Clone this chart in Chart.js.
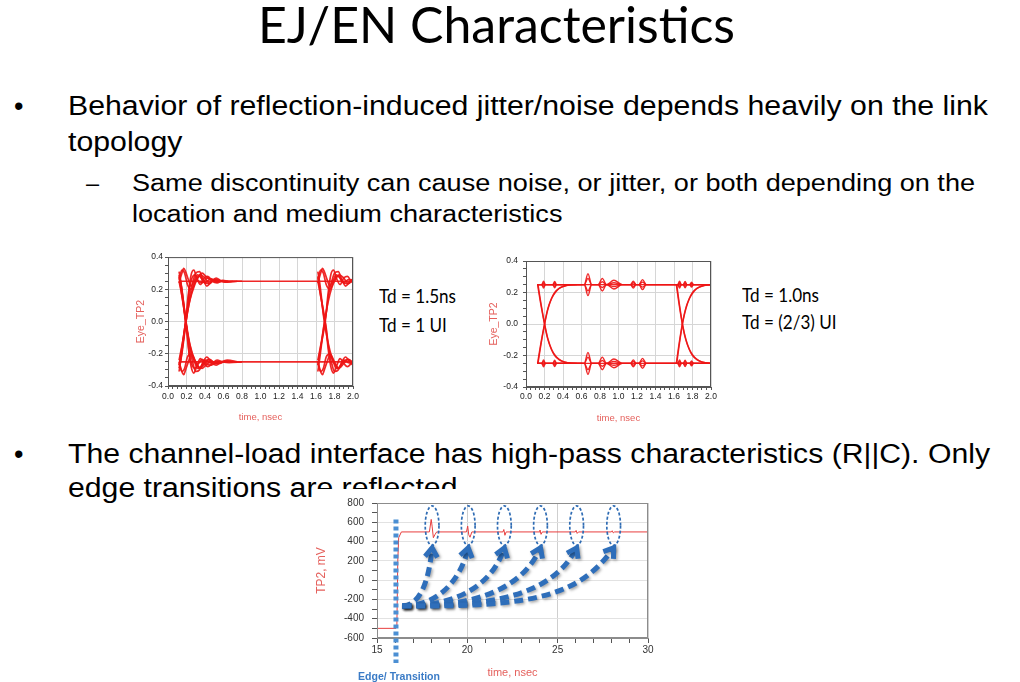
<!DOCTYPE html>
<html>
<head>
<meta charset="utf-8">
<title>EJ/EN Characteristics</title>
<script src="https://cdn.jsdelivr.net/npm/chart.js@4.4.1/dist/chart.umd.min.js"></script>
<style>
  body { margin: 0; background: #fff; }
  #slide { position: relative; width: 1020px; height: 682px; overflow: hidden; background: #fff; }
  .line { position: absolute; white-space: nowrap; line-height: 1.2; transform-origin: 0 0; z-index: 1; }
  canvas { position: absolute; }
</style>
</head>
<body>
<div id="slide">
  <canvas id="eye1" width="240" height="180" style="left:130px;top:250px;z-index:1"></canvas>
  <canvas id="eye2" width="240" height="180" style="left:480px;top:250px;z-index:1"></canvas>
  <canvas id="tp2" width="353" height="193" style="left:312px;top:489px;z-index:2;background:#fff"></canvas>
</div>
<script>
// ---- eye diagram 1 (Td = 1.5ns), [time ns, volts] ----
const eye1High = [[0.12, 0.25], [2.0, 0.25]];
const eye1Low = [[0.12, -0.25], [2.0, -0.25]];
const eye1RiseA = [[0.12,-0.27],[0.15,-0.16],[0.19,0.0],[0.22,0.17],[0.25,0.29],[0.28,0.32],[0.31,0.27],[0.35,0.23],[0.39,0.27],[0.43,0.28],[0.48,0.25],[0.53,0.24],[0.59,0.255],[0.66,0.25],[0.8,0.25]];
const eye1RiseB = [[0.12,-0.24],[0.16,-0.12],[0.19,-0.01],[0.23,0.12],[0.27,0.21],[0.31,0.26],[0.35,0.29],[0.40,0.27],[0.45,0.235],[0.50,0.26],[0.56,0.255],[0.62,0.245],[0.7,0.25]];
const eye1RiseC = [[0.12,-0.31],[0.14,-0.23],[0.18,-0.05],[0.20,0.04],[0.24,0.18],[0.27,0.25],[0.30,0.30],[0.34,0.31],[0.38,0.26],[0.42,0.22],[0.47,0.25],[0.52,0.27],[0.58,0.25],[0.64,0.245],[0.75,0.25]];
const eye1RiseD = [[0.13,-0.26],[0.17,-0.10],[0.20,0.02],[0.24,0.14],[0.29,0.23],[0.33,0.28],[0.37,0.30],[0.41,0.28],[0.46,0.26],[0.52,0.245],[0.6,0.25]];
const eye1RiseH = [[0.12,-0.29],[0.15,-0.2],[0.18,-0.07],[0.21,0.07],[0.23,0.2],[0.26,0.27],[0.29,0.29],[0.33,0.25],[0.37,0.24],[0.42,0.27],[0.47,0.265],[0.54,0.25],[0.65,0.25]];
const eye1FallA = [[0.12,0.28],[0.15,0.16],[0.19,0.01],[0.22,-0.16],[0.25,-0.28],[0.28,-0.32],[0.31,-0.28],[0.35,-0.23],[0.39,-0.26],[0.43,-0.28],[0.48,-0.26],[0.53,-0.24],[0.59,-0.25],[0.66,-0.255],[0.8,-0.25]];
const eye1FallB = [[0.12,0.25],[0.16,0.13],[0.19,0.0],[0.23,-0.13],[0.27,-0.22],[0.31,-0.27],[0.35,-0.29],[0.40,-0.26],[0.45,-0.235],[0.50,-0.255],[0.56,-0.26],[0.62,-0.245],[0.7,-0.25]];
const eye1FallC = [[0.12,0.31],[0.14,0.24],[0.18,0.05],[0.20,-0.03],[0.24,-0.18],[0.27,-0.26],[0.30,-0.31],[0.34,-0.30],[0.38,-0.25],[0.42,-0.22],[0.47,-0.255],[0.52,-0.27],[0.58,-0.25],[0.64,-0.24],[0.75,-0.25]];
const eye1FallD = [[0.13,0.27],[0.17,0.11],[0.20,-0.02],[0.24,-0.15],[0.29,-0.24],[0.33,-0.28],[0.37,-0.29],[0.41,-0.27],[0.46,-0.25],[0.52,-0.255],[0.6,-0.25]];
const eye1FallH = [[0.12,0.29],[0.15,0.2],[0.18,0.06],[0.21,-0.08],[0.23,-0.2],[0.26,-0.27],[0.29,-0.29],[0.33,-0.26],[0.37,-0.235],[0.42,-0.265],[0.47,-0.27],[0.54,-0.25],[0.65,-0.25]];
const eye1HoldHighA = [[0.12,0.24],[0.15,0.30],[0.17,0.33],[0.19,0.31],[0.22,0.26],[0.25,0.22],[0.28,0.25],[0.32,0.29],[0.36,0.27],[0.40,0.24],[0.45,0.26],[0.50,0.255],[0.6,0.25]];
const eye1HoldHighB = [[0.12,0.26],[0.15,0.32],[0.18,0.30],[0.21,0.23],[0.25,0.20],[0.30,0.26],[0.34,0.285],[0.38,0.25],[0.44,0.235],[0.50,0.26],[0.58,0.25]];
const eye1HoldLowA = [[0.12,-0.25],[0.15,-0.31],[0.17,-0.33],[0.19,-0.30],[0.22,-0.25],[0.25,-0.21],[0.28,-0.24],[0.32,-0.29],[0.36,-0.28],[0.40,-0.24],[0.45,-0.255],[0.50,-0.26],[0.6,-0.25]];
const eye1HoldLowB = [[0.12,-0.26],[0.15,-0.31],[0.18,-0.29],[0.21,-0.22],[0.25,-0.20],[0.30,-0.25],[0.34,-0.29],[0.38,-0.26],[0.44,-0.235],[0.50,-0.255],[0.58,-0.25]];
const eye1RiseE = [[1.62,-0.27],[1.65,-0.16],[1.70,0.0],[1.73,0.17],[1.76,0.29],[1.79,0.32],[1.82,0.27],[1.86,0.23],[1.90,0.27],[1.94,0.28],[1.98,0.25],[2.0,0.24]];
const eye1RiseF = [[1.62,-0.24],[1.66,-0.12],[1.69,-0.01],[1.73,0.12],[1.77,0.21],[1.81,0.26],[1.85,0.29],[1.90,0.27],[1.95,0.235],[2.0,0.26]];
const eye1RiseG = [[1.62,-0.31],[1.64,-0.23],[1.68,-0.05],[1.71,0.05],[1.74,0.18],[1.77,0.25],[1.80,0.30],[1.84,0.31],[1.88,0.26],[1.92,0.22],[1.97,0.25],[2.0,0.265]];
const eye1FallE = [[1.62,0.28],[1.65,0.16],[1.70,0.0],[1.73,-0.16],[1.76,-0.28],[1.79,-0.32],[1.82,-0.28],[1.86,-0.23],[1.90,-0.26],[1.94,-0.28],[1.98,-0.26],[2.0,-0.245]];
const eye1FallF = [[1.62,0.25],[1.66,0.13],[1.69,0.0],[1.73,-0.13],[1.77,-0.22],[1.81,-0.27],[1.85,-0.29],[1.90,-0.26],[1.95,-0.235],[2.0,-0.255]];
const eye1FallG = [[1.62,0.31],[1.64,0.24],[1.68,0.05],[1.71,-0.04],[1.74,-0.18],[1.77,-0.26],[1.80,-0.31],[1.84,-0.30],[1.88,-0.25],[1.92,-0.22],[1.97,-0.255],[2.0,-0.27]];
const eye1HoldHighC = [[1.62,0.24],[1.65,0.30],[1.67,0.33],[1.69,0.31],[1.72,0.26],[1.75,0.22],[1.78,0.25],[1.82,0.29],[1.86,0.27],[1.90,0.24],[1.95,0.26],[2.0,0.255]];
const eye1HoldHighD = [[1.62,0.26],[1.65,0.32],[1.68,0.30],[1.71,0.23],[1.75,0.20],[1.80,0.26],[1.84,0.285],[1.88,0.25],[1.94,0.235],[2.0,0.26]];
const eye1HoldLowC = [[1.62,-0.25],[1.65,-0.31],[1.67,-0.33],[1.69,-0.30],[1.72,-0.25],[1.75,-0.21],[1.78,-0.24],[1.82,-0.29],[1.86,-0.28],[1.90,-0.24],[1.95,-0.255],[2.0,-0.26]];
const eye1HoldLowD = [[1.62,-0.26],[1.65,-0.31],[1.68,-0.29],[1.71,-0.22],[1.75,-0.20],[1.80,-0.25],[1.84,-0.29],[1.88,-0.26],[1.94,-0.235],[2.0,-0.255]];

// ---- eye diagram 2 (Td = 1.0ns) ----
const eye2High = [[0.12, 0.25], [2.0, 0.25]];
const eye2Low = [[0.12, -0.25], [2.0, -0.25]];
const eye2RiseA = [[0.125,-0.25],[0.16,-0.125],[0.20,0.0],[0.23,0.085],[0.27,0.155],[0.31,0.20],[0.36,0.228],[0.42,0.243],[0.50,0.25],[0.6,0.25]];
const eye2RiseB = [[0.13,-0.25],[0.165,-0.12],[0.205,0.01],[0.24,0.10],[0.28,0.165],[0.33,0.21],[0.38,0.232],[0.45,0.246],[0.55,0.25]];
const eye2FallA = [[0.125,0.25],[0.16,0.125],[0.20,0.0],[0.23,-0.085],[0.27,-0.155],[0.31,-0.20],[0.36,-0.228],[0.42,-0.243],[0.50,-0.25],[0.6,-0.25]];
const eye2FallB = [[0.13,0.25],[0.165,0.12],[0.205,-0.01],[0.24,-0.10],[0.28,-0.165],[0.33,-0.21],[0.38,-0.232],[0.45,-0.246],[0.55,-0.25]];
const eye2RiseC = [[1.625,-0.25],[1.655,-0.125],[1.69,0.0],[1.72,0.085],[1.76,0.155],[1.80,0.20],[1.85,0.228],[1.91,0.243],[2.0,0.25]];
const eye2RiseD = [[1.63,-0.25],[1.66,-0.12],[1.695,0.01],[1.73,0.10],[1.77,0.165],[1.82,0.21],[1.87,0.232],[1.94,0.246],[2.0,0.25]];
const eye2FallC = [[1.625,0.25],[1.655,0.125],[1.69,0.0],[1.72,-0.085],[1.76,-0.155],[1.80,-0.20],[1.85,-0.228],[1.91,-0.243],[2.0,-0.25]];
const eye2FallD = [[1.63,0.25],[1.66,0.12],[1.695,-0.01],[1.73,-0.10],[1.77,-0.165],[1.82,-0.21],[1.87,-0.232],[1.94,-0.246],[2.0,-0.25]];
const eye2RingHiA = [[0.12,0.25],[0.17,0.25],[0.19,0.272],[0.21,0.25],[0.29,0.25],[0.31,0.27],[0.33,0.25],[0.63,0.25],[0.67,0.32],[0.71,0.25],[0.78,0.25],[0.825,0.29],[0.87,0.25],[0.95,0.278],[1.04,0.25],[1.13,0.25],[1.16,0.272],[1.19,0.25],[1.22,0.25],[1.26,0.282],[1.30,0.25],[1.64,0.25],[1.66,0.272],[1.68,0.25],[1.70,0.25],[1.72,0.27],[1.74,0.25],[1.77,0.25],[1.79,0.266],[1.81,0.25],[2.0,0.25]];
const eye2RingHiB = [[0.12,0.25],[0.17,0.25],[0.19,0.228],[0.21,0.25],[0.29,0.25],[0.31,0.23],[0.33,0.25],[0.63,0.25],[0.67,0.18],[0.71,0.25],[0.78,0.25],[0.825,0.21],[0.87,0.25],[0.95,0.222],[1.04,0.25],[1.13,0.25],[1.16,0.228],[1.19,0.25],[1.22,0.25],[1.26,0.218],[1.30,0.25],[1.64,0.25],[1.66,0.228],[1.68,0.25],[1.70,0.25],[1.72,0.23],[1.74,0.25],[1.77,0.25],[1.79,0.234],[1.81,0.25],[2.0,0.25]];
const eye2RingHiC = [[0.12,0.25],[0.17,0.25],[0.19,0.26],[0.21,0.25],[0.29,0.25],[0.31,0.26],[0.33,0.25],[0.63,0.25],[0.67,0.29],[0.71,0.25],[0.78,0.25],[0.825,0.268],[0.87,0.25],[0.95,0.262],[1.04,0.25],[1.13,0.25],[1.16,0.262],[1.19,0.25],[1.22,0.25],[1.26,0.266],[1.30,0.25],[1.64,0.25],[1.66,0.26],[1.68,0.25],[1.70,0.25],[1.72,0.26],[1.74,0.25],[1.77,0.25],[1.79,0.258],[1.81,0.25],[2.0,0.25]];
const eye2RingHiD = [[0.12,0.25],[0.17,0.25],[0.19,0.24],[0.21,0.25],[0.29,0.25],[0.31,0.24],[0.33,0.25],[0.63,0.25],[0.67,0.21],[0.71,0.25],[0.78,0.25],[0.825,0.232],[0.87,0.25],[0.95,0.238],[1.04,0.25],[1.13,0.25],[1.16,0.238],[1.19,0.25],[1.22,0.25],[1.26,0.234],[1.30,0.25],[1.64,0.25],[1.66,0.24],[1.68,0.25],[1.70,0.25],[1.72,0.24],[1.74,0.25],[1.77,0.25],[1.79,0.242],[1.81,0.25],[2.0,0.25]];
const eye2RingLoA = [[0.12,-0.25],[0.17,-0.25],[0.19,-0.272],[0.21,-0.25],[0.29,-0.25],[0.31,-0.27],[0.33,-0.25],[0.63,-0.25],[0.67,-0.32],[0.71,-0.25],[0.78,-0.25],[0.825,-0.29],[0.87,-0.25],[0.95,-0.278],[1.04,-0.25],[1.13,-0.25],[1.16,-0.272],[1.19,-0.25],[1.22,-0.25],[1.26,-0.282],[1.30,-0.25],[1.64,-0.25],[1.66,-0.272],[1.68,-0.25],[1.70,-0.25],[1.72,-0.27],[1.74,-0.25],[1.77,-0.25],[1.79,-0.266],[1.81,-0.25],[2.0,-0.25]];
const eye2RingLoB = [[0.12,-0.25],[0.17,-0.25],[0.19,-0.228],[0.21,-0.25],[0.29,-0.25],[0.31,-0.23],[0.33,-0.25],[0.63,-0.25],[0.67,-0.18],[0.71,-0.25],[0.78,-0.25],[0.825,-0.21],[0.87,-0.25],[0.95,-0.222],[1.04,-0.25],[1.13,-0.25],[1.16,-0.228],[1.19,-0.25],[1.22,-0.25],[1.26,-0.218],[1.30,-0.25],[1.64,-0.25],[1.66,-0.228],[1.68,-0.25],[1.70,-0.25],[1.72,-0.23],[1.74,-0.25],[1.77,-0.25],[1.79,-0.234],[1.81,-0.25],[2.0,-0.25]];
const eye2RingLoC = [[0.12,-0.25],[0.17,-0.25],[0.19,-0.26],[0.21,-0.25],[0.29,-0.25],[0.31,-0.26],[0.33,-0.25],[0.63,-0.25],[0.67,-0.29],[0.71,-0.25],[0.78,-0.25],[0.825,-0.268],[0.87,-0.25],[0.95,-0.262],[1.04,-0.25],[1.13,-0.25],[1.16,-0.262],[1.19,-0.25],[1.22,-0.25],[1.26,-0.266],[1.30,-0.25],[1.64,-0.25],[1.66,-0.26],[1.68,-0.25],[1.70,-0.25],[1.72,-0.26],[1.74,-0.25],[1.77,-0.25],[1.79,-0.258],[1.81,-0.25],[2.0,-0.25]];
const eye2RingLoD = [[0.12,-0.25],[0.17,-0.25],[0.19,-0.24],[0.21,-0.25],[0.29,-0.25],[0.31,-0.24],[0.33,-0.25],[0.63,-0.25],[0.67,-0.21],[0.71,-0.25],[0.78,-0.25],[0.825,-0.232],[0.87,-0.25],[0.95,-0.238],[1.04,-0.25],[1.13,-0.25],[1.16,-0.238],[1.19,-0.25],[1.22,-0.25],[1.26,-0.234],[1.30,-0.25],[1.64,-0.25],[1.66,-0.24],[1.68,-0.25],[1.70,-0.25],[1.72,-0.24],[1.74,-0.25],[1.77,-0.25],[1.79,-0.242],[1.81,-0.25],[2.0,-0.25]];

// ---- TP2 step response ----
const tp2Time = [15, 16.05, 16.1, 16.15, 16.2, 16.35, 17.9, 18.0, 18.05, 18.12, 18.2, 18.3, 19.95, 20.02, 20.08, 20.15, 20.25, 21.97, 22.02, 22.08, 22.15, 23.97, 24.02, 24.08, 24.15, 25.97, 26.02, 26.08, 26.15, 27.97, 28.02, 28.08, 28.15, 30];
const tp2Volt = [-500, -500, -480, 200, 440, 500, 500, 630, 560, 440, 470, 500, 500, 560, 470, 445, 500, 500, 525, 465, 500, 500, 520, 475, 500, 500, 515, 485, 500, 500, 512, 490, 500, 500];

// reflection callouts (data units)
const edgeTime = 16.05, edgeTopMv = 630;
const reflTimes = [18.05, 20.05, 22.05, 24.05, 26.05, 28.1];
const reflCenterMv = 565, reflHalfMv = 205, reflHalfNs = 0.38;
const arrowStart = [16.4, -267];
const arrowTipMv = 335;
const arrowCtrl1 = [[17.3, -267], [18.3, -270], [19.5, -275], [20.8, -280], [22.2, -285], [24.0, -285]];
const arrowCtrl2 = [[17.85, -50], [19.6, -20], [21.4, -40], [23.1, -60], [24.9, -90], [26.3, -140]];

const eye1Traces = [eye1High, eye1Low, eye1RiseA, eye1RiseB, eye1RiseC, eye1RiseD, eye1RiseH, eye1FallA, eye1FallB, eye1FallC, eye1FallD, eye1FallH,
  eye1HoldHighA, eye1HoldHighB, eye1HoldLowA, eye1HoldLowB, eye1RiseE, eye1RiseF, eye1RiseG, eye1FallE, eye1FallF, eye1FallG,
  eye1HoldHighC, eye1HoldHighD, eye1HoldLowC, eye1HoldLowD];
const eye2Traces = [eye2High, eye2Low, eye2RiseA, eye2RiseB, eye2FallA, eye2FallB, eye2RiseC, eye2RiseD, eye2FallC, eye2FallD,
  eye2RingHiA, eye2RingHiB, eye2RingHiC, eye2RingHiD, eye2RingLoA, eye2RingLoB, eye2RingLoC, eye2RingLoD];

const FONT = "'Liberation Sans', Arial, sans-serif";
const EYE_RED = 'rgba(238, 22, 22, 0.92)';
const AXIS_RED = '#e5605c';

// slide text
const slideLines = [
  { text: 'EJ/EN Characteristics', x: 258, base: 43, size: 50, font: 'Lato', fit: 477, group: 'title' },
  { text: '\u2022', x: 14, base: 114.5, size: 27, font: FONT },
  { text: 'Behavior of reflection-induced jitter/noise depends heavily on the link', x: 68, base: 114.5, size: 27, font: FONT, fit: 920, group: 'b1' },
  { text: 'topology', x: 68, base: 151, size: 27, font: FONT, group: 'b1' },
  { text: '\u2013', x: 86, base: 191, size: 23.5, font: FONT },
  { text: 'Same discontinuity can cause noise, or jitter, or both depending on the', x: 131.5, base: 191, size: 23.5, font: FONT, fit: 843, group: 'b2' },
  { text: 'location and medium characteristics', x: 131.5, base: 221.5, size: 23.5, font: FONT, group: 'b2' },
  { text: 'Td = 1.5ns', x: 379, base: 303, size: 18.5, font: 'Lato', fit: 77, group: 'td' },
  { text: 'Td = 1 UI', x: 379, base: 332, size: 18.5, font: 'Lato', group: 'td' },
  { text: 'Td = 1.0ns', x: 742, base: 302, size: 18.5, font: 'Lato', group: 'td' },
  { text: 'Td = (2/3) UI', x: 742, base: 329, size: 18.5, font: 'Lato', group: 'td' },
  { text: '\u2022', x: 14, base: 462.5, size: 27, font: FONT },
  { text: 'The channel-load interface has high-pass characteristics (R||C). Only', x: 68, base: 462.5, size: 27, font: FONT, fit: 922, group: 'b3' },
  { text: 'edge transitions are reflected', x: 68, base: 497, size: 27, font: FONT, group: 'b3' },
  { text: 'Edge/ Transition', x: 358, base: 680, size: 11, font: FONT, weight: 'bold', color: '#3a7bc6', fit: 82, group: 'edge', z: 3 }
];

function addLine(L, scales) {
  const slide = document.getElementById('slide');
  const el = document.createElement('div');
  el.className = 'line';
  el.textContent = L.text;
  el.style.font = `${L.weight || 'normal'} ${L.size}px ${L.font}`;
  el.style.lineHeight = '1.2';
  el.style.color = L.color || '#000';
  el.style.left = L.x + 'px';
  el.style.top = '0px';
  if (L.z) el.style.zIndex = L.z;
  slide.appendChild(el);
  const probe = document.createElement('span');
  probe.style.cssText = 'display:inline-block;width:0;height:0;vertical-align:baseline';
  el.appendChild(probe);
  el.style.top = (L.base - probe.offsetTop) + 'px';
  if (L.fit) scales[L.group] = L.fit / el.getBoundingClientRect().width;
  const s = L.group ? (scales[L.group] || 1) : 1;
  el.style.transform = `scaleX(${s})`;
}

function isMultiple(v, step) {
  const r = Math.round(v / step);
  return Math.abs(v - r * step) < step * 1e-6;
}

// frame around the plot area
const plotFrame = {
  id: 'plotFrame',
  afterDatasetsDraw(chart, args, opts) {
    const { ctx, chartArea: a } = chart;
    ctx.save();
    ctx.strokeStyle = opts.color;
    ctx.lineWidth = 1;
    ctx.strokeRect(a.left + 0.5, a.top + 0.5, a.right - a.left - 1, a.bottom - a.top - 1);
    ctx.restore();
  }
};

function eyeOptions(g) {
  const tickFont = { size: 8.5, family: FONT };
  return {
    responsive: false, animation: false, events: [],
    layout: { padding: { left: 0, top: g.top, right: g.right, bottom: 0 } },
    plugins: { legend: { display: false }, tooltip: { enabled: false }, plotFrame: { color: '#555' } },
    scales: {
      x: {
        type: 'linear', min: 0, max: 2,
        afterFit: s => { s.height = g.xh; },
        ticks: { stepSize: 0.05, maxTicksLimit: 1000, autoSkip: false, maxRotation: 0, padding: g.xtp, font: tickFont, color: '#222',
          callback: v => isMultiple(v, 0.2) ? (Math.abs(v) < 1e-9 ? '0.0' : v.toFixed(1)) : '' },
        grid: { color: c => (c.tick && isMultiple(c.tick.value, 0.2)) ? '#d6d6d6' : 'rgba(0,0,0,0)', tickColor: '#555', tickLength: 3 },
        border: { color: '#555' },
        title: { display: true, text: 'time, nsec', color: AXIS_RED, font: { size: 9.5, family: FONT }, padding: { top: 0, bottom: g.xtitle } }
      },
      y: {
        type: 'linear', min: -0.4, max: 0.4,
        afterFit: s => { s.width = g.yw; },
        ticks: { stepSize: 0.05, maxTicksLimit: 1000, autoSkip: false, padding: g.ytp, font: tickFont, color: '#222',
          callback: v => isMultiple(v, 0.2) ? (Math.abs(v) < 1e-9 ? '0.0' : v.toFixed(1)) : '' },
        grid: { color: c => (c.tick && isMultiple(c.tick.value, 0.2)) ? '#d6d6d6' : 'rgba(0,0,0,0)', tickColor: '#555', tickLength: 3 },
        border: { color: '#555' },
        title: { display: true, text: 'Eye_TP2', color: AXIS_RED, font: { size: 10.5, family: FONT }, padding: { top: g.ytitle, bottom: 0 } }
      }
    }
  };
}

function eyeSets(traces, width) {
  return traces.map(t => ({
    data: t.map(p => ({ x: p[0], y: p[1] })),
    showLine: true, borderColor: EYE_RED, borderWidth: width,
    pointRadius: 0, fill: false, cubicInterpolationMode: 'monotone'
  }));
}

// blue callouts on the TP2 plot
const reflectionMarks = {
  id: 'reflectionMarks',
  afterDatasetsDraw(chart) {
    const { ctx, chartArea, scales: { x, y } } = chart;
    const px = v => x.getPixelForValue(v);
    const py = v => y.getPixelForValue(v);
    ctx.save();

    // edge marker
    ctx.strokeStyle = '#4b8fd3';
    ctx.lineWidth = 5;
    ctx.setLineDash([4, 3]);
    ctx.beginPath();
    ctx.moveTo(px(edgeTime), py(edgeTopMv));
    ctx.lineTo(px(edgeTime), chartArea.bottom + 25);
    ctx.stroke();

    // dashed ellipses round each reflection
    ctx.strokeStyle = '#2f6cb4';
    ctx.lineWidth = 1.7;
    ctx.setLineDash([3, 2]);
    reflTimes.forEach(t => {
      const rx = px(t + reflHalfNs) - px(t);
      const ry = py(reflCenterMv - reflHalfMv) - py(reflCenterMv);
      ctx.beginPath();
      ctx.ellipse(px(t), py(reflCenterMv), rx, ry, 0, 0, Math.PI * 2);
      ctx.stroke();
    });

    // curved arrows
    ctx.shadowColor = 'rgba(0,0,0,0.35)';
    ctx.shadowBlur = 3;
    ctx.shadowOffsetX = 1.5;
    ctx.shadowOffsetY = 1.5;
    ctx.strokeStyle = '#2e6eba';
    ctx.lineWidth = 5;
    reflTimes.forEach((t, i) => {
      const x0 = px(arrowStart[0]), y0 = py(arrowStart[1]);
      const x1 = px(arrowCtrl1[i][0]), y1 = py(arrowCtrl1[i][1]);
      const x2 = px(arrowCtrl2[i][0]), y2 = py(arrowCtrl2[i][1]);
      const x3 = px(t), y3 = py(arrowTipMv);
      ctx.setLineDash([9, 5]);
      ctx.lineCap = 'butt';
      ctx.beginPath();
      ctx.moveTo(x0, y0);
      ctx.bezierCurveTo(x1, y1, x2, y2, x3, y3);
      ctx.stroke();
      const ang = Math.atan2(y3 - y2, x3 - x2);
      const len = 11;
      ctx.setLineDash([]);
      ctx.lineJoin = 'miter';
      ctx.beginPath();
      ctx.moveTo(x3 - len * Math.cos(ang - 0.6), y3 - len * Math.sin(ang - 0.6));
      ctx.lineTo(x3, y3);
      ctx.lineTo(x3 - len * Math.cos(ang + 0.6), y3 - len * Math.sin(ang + 0.6));
      ctx.stroke();
    });
    ctx.restore();
  }
};

function init() {
  const scales = {};
  slideLines.forEach(L => addLine(L, scales));

  new Chart(document.getElementById('eye1'), {
    type: 'scatter',
    data: { datasets: eyeSets(eye1Traces, 1.7) },
    options: eyeOptions({ top: 7, right: 17, yw: 38, xh: 44, xtp: 3, ytp: 2, xtitle: 7, ytitle: 5 }),
    plugins: [plotFrame]
  });

  new Chart(document.getElementById('eye2'), {
    type: 'scatter',
    data: { datasets: eyeSets(eye2Traces, 1.4) },
    options: eyeOptions({ top: 11, right: 9, yw: 46, xh: 43, xtp: 2, ytp: 5, xtitle: 6, ytitle: 8 }),
    plugins: [plotFrame]
  });

  new Chart(document.getElementById('tp2'), {
    type: 'scatter',
    data: {
      datasets: [{
        data: tp2Time.map((t, i) => ({ x: t, y: tp2Volt[i] })),
        showLine: true, borderColor: 'rgb(232, 62, 62)', borderWidth: 1,
        pointRadius: 0, fill: false, tension: 0
      }]
    },
    options: {
      responsive: false, animation: false, events: [],
      layout: { padding: { left: 0, top: 10, right: 17, bottom: 0 } },
      plugins: { legend: { display: false }, tooltip: { enabled: false }, plotFrame: { color: '#8c8c8c' } },
      scales: {
        x: {
          type: 'linear', min: 15, max: 30,
          afterFit: s => { s.height = 44; },
          ticks: { stepSize: 1, maxTicksLimit: 1000, autoSkip: false, maxRotation: 0, padding: 1, font: { size: 10, family: FONT }, color: '#333',
            callback: v => isMultiple(v, 5) ? String(Math.round(v)) : '' },
          grid: { color: c => (c.tick && isMultiple(c.tick.value, 5)) ? '#cfcfcf' : 'rgba(0,0,0,0)', tickColor: '#555', tickLength: 5 },
          border: { color: '#8c8c8c' },
          title: { display: true, text: 'time, nsec', color: AXIS_RED, font: { size: 11, family: FONT }, padding: { top: 0, bottom: 2 } }
        },
        y: {
          type: 'linear', min: -600, max: 800,
          afterFit: s => { s.width = 65; },
          ticks: { stepSize: 100, maxTicksLimit: 1000, autoSkip: false, padding: 8, font: { size: 10, family: FONT }, color: '#333',
            callback: v => isMultiple(v, 200) ? String(Math.round(v)) : '' },
          grid: { color: c => (c.tick && isMultiple(c.tick.value, 200)) ? '#e2e2e2' : 'rgba(0,0,0,0)', tickColor: '#555', tickLength: 5 },
          border: { color: '#8c8c8c' },
          title: { display: true, text: 'TP2, mV', color: AXIS_RED, font: { size: 12, family: FONT }, padding: { top: 2, bottom: 0 } }
        }
      }
    },
    plugins: [plotFrame, reflectionMarks]
  });
}

window.onload = init;
</script>
</body>
</html>
